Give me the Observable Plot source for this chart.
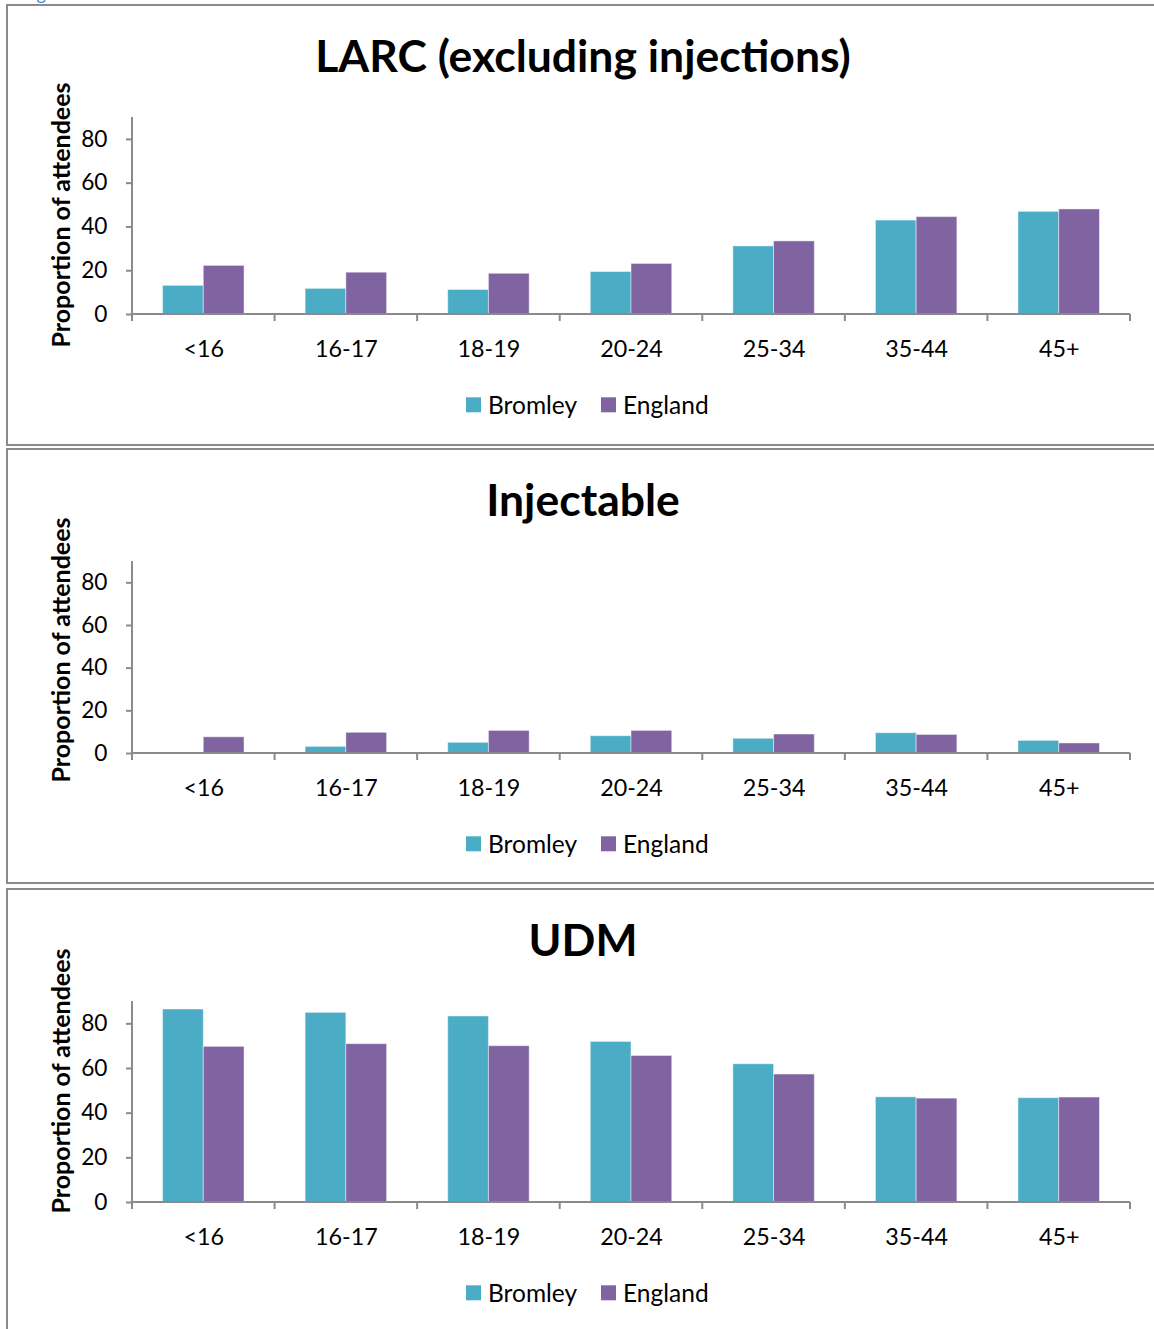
<!DOCTYPE html>
<html>
<head>
<meta charset="utf-8">
<script src="https://cdn.jsdelivr.net/npm/d3@7"></script>
<script src="https://cdn.jsdelivr.net/npm/@observablehq/plot@0.6"></script>
<style>
  html, body { margin: 0; padding: 0; width: 1154px; height: 1329px; overflow: hidden; background: #fff; }
  body { position: relative; font-family: Lato, "Open Sans", sans-serif; color: #000; }
  .panel { position: absolute; left: 6px; width: 1160px; border: 2px solid #8a8a8a; box-sizing: border-box; }
  .title { position: absolute; left: 6px; width: 1154px; text-align: center; font-weight: bold; font-size: 44.5px; line-height: 1.2; white-space: nowrap; }
  .ylabel { position: absolute; font-weight: bold; font-size: 25px; line-height: 1.2; white-space: nowrap; transform: translate(-50%, -50%) rotate(-90deg); }
  .chart { position: absolute; left: 0; }
  .legend { position: absolute; left: 466px; display: flex; align-items: center; font-size: 24.5px; line-height: 1.2; white-space: nowrap; transform: translateY(-50%); }
  .legend .item { display: flex; align-items: center; margin-right: 24px; }
  .legend .sw { width: 15px; height: 15px; margin-right: 7px; }
  .caption { position: absolute; left: 22px; top: -17px; font-size: 18px; line-height: 1.2; color: #4f81bd; }
</style>
</head>
<body>
<div class="caption">Figure</div>
<script>
// Age bands and the two comparison series
const ageGroups = ["<16", "16-17", "18-19", "20-24", "25-34", "35-44", "45+"];
const seriesNames = ["Bromley", "England"];
const seriesColors = ["#4BACC6", "#8064A2"];
const yTicks = [0, 20, 40, 60, 80];
const yMax = 90;

// Proportion of attendees (%) by method
const larcTitle = "LARC (excluding injections)";
const larcBromley = [13.1, 11.7, 11.2, 19.4, 31.1, 42.9, 46.9];
const larcEngland = [22.2, 19.1, 18.6, 23.1, 33.4, 44.5, 48.0];

const injTitle = "Injectable";
const injBromley = [null, 3.1, 5.0, 8.1, 6.9, 9.5, 5.9];
const injEngland = [7.6, 9.7, 10.6, 10.6, 8.9, 8.7, 4.7];

const udmTitle = "UDM";
const udmBromley = [86.4, 84.9, 83.3, 71.9, 61.9, 47.1, 46.7];
const udmEngland = [69.7, 70.9, 70.0, 65.6, 57.3, 46.5, 47.0];

const yLabel = "Proportion of attendees";

// Page layout for each boxed panel (pixels)
const layout = [
  {top: 4,   height: 442, titleTop: 28,  plotTop: 117,  zero: 314,  labelMid: 215,  legendMid: 405},
  {top: 448, height: 436, titleTop: 472, plotTop: 561,  zero: 753,  labelMid: 650,  legendMid: 844},
  {top: 888, height: 480, titleTop: 912, plotTop: 1001, zero: 1202, labelMid: 1081, legendMid: 1293}
];

const panels = [
  {title: larcTitle, b: larcBromley, e: larcEngland},
  {title: injTitle,  b: injBromley,  e: injEngland},
  {title: udmTitle,  b: udmBromley,  e: udmEngland}
];

const axisGrey = "#8a8a8a";
const font = "Lato, 'Open Sans', sans-serif";
const tickFont = 22.7, catFont = 23.3;
const marginTop = 10, marginBottom = 50, marginLeft = 132, marginRight = 24;

panels.forEach((p, k) => {
  const L = layout[k];

  const box = document.createElement("div");
  box.className = "panel";
  box.style.top = L.top + "px";
  box.style.height = L.height + "px";
  document.body.appendChild(box);

  const title = document.createElement("div");
  title.className = "title";
  title.style.top = L.titleTop + "px";
  title.textContent = p.title;
  document.body.appendChild(title);

  const yl = document.createElement("div");
  yl.className = "ylabel";
  yl.style.left = "60px";
  yl.style.top = L.labelMid + "px";
  yl.textContent = yLabel;
  document.body.appendChild(yl);

  const rows = ageGroups.flatMap((age, i) => [
    {age, series: seriesNames[0], value: p.b[i]},
    {age, series: seriesNames[1], value: p.e[i]}
  ]).filter(d => d.value != null);

  const plotH = L.zero - L.plotTop;
  const chart = Plot.plot({
    width: 1154,
    height: marginTop + plotH + marginBottom,
    marginTop, marginBottom, marginLeft, marginRight,
    style: {fontFamily: font, fontSize: "21px", color: "#000", background: "transparent", overflow: "visible"},
    fx: {domain: ageGroups, padding: 0, round: false, label: null, axis: null},
    x: {domain: seriesNames, paddingInner: 0, paddingOuter: 0.75, round: false, axis: null},
    y: {domain: [0, yMax], label: null, axis: null},
    color: {domain: seriesNames, range: seriesColors},
    marks: [
      Plot.barY(rows, {fx: "age", x: "series", y: "value", fill: "series", stroke: "#fff", strokeOpacity: 0.45, strokeWidth: 1}),
      Plot.axisY({ticks: yTicks, tickSize: 6, tickPadding: 19, stroke: axisGrey, strokeWidth: 2, fill: "#000", fontSize: tickFont, label: null}),
      Plot.axisFx({anchor: "bottom", tickSize: 0, tickPadding: 26, fill: "#000", fontSize: catFont, label: null})
    ]
  });
  chart.classList.add("chart");
  chart.style.top = (L.plotTop - marginTop) + "px";

  // Axis lines and category boundary ticks, placed with the chart's own scales
  const fx = chart.scale("fx"), y = chart.scale("y");
  const x0 = fx.range[0], x1 = fx.range[1];
  const y0 = y.apply(0), yTop = y.apply(yMax);
  const g = d3.select(chart).append("g").attr("stroke", axisGrey).attr("stroke-width", 2);
  g.append("line").attr("x1", x0).attr("x2", x0).attr("y1", yTop).attr("y2", y0);
  g.append("line").attr("x1", x0).attr("x2", x1).attr("y1", y0).attr("y2", y0);
  const bounds = ageGroups.map(a => fx.apply(a)).concat([x1]);
  g.selectAll("line.b").data(bounds).join("line").attr("class", "b")
    .attr("x1", d => d).attr("x2", d => d).attr("y1", y0).attr("y2", y0 + 7);

  document.body.appendChild(chart);

  const legend = document.createElement("div");
  legend.className = "legend";
  legend.style.top = L.legendMid + "px";
  seriesNames.forEach((s, i) => {
    const item = document.createElement("div");
    item.className = "item";
    const sw = document.createElement("div");
    sw.className = "sw";
    sw.style.background = seriesColors[i];
    const t = document.createElement("span");
    t.textContent = s;
    item.appendChild(sw);
    item.appendChild(t);
    legend.appendChild(item);
  });
  document.body.appendChild(legend);
});
</script>
</body>
</html>
